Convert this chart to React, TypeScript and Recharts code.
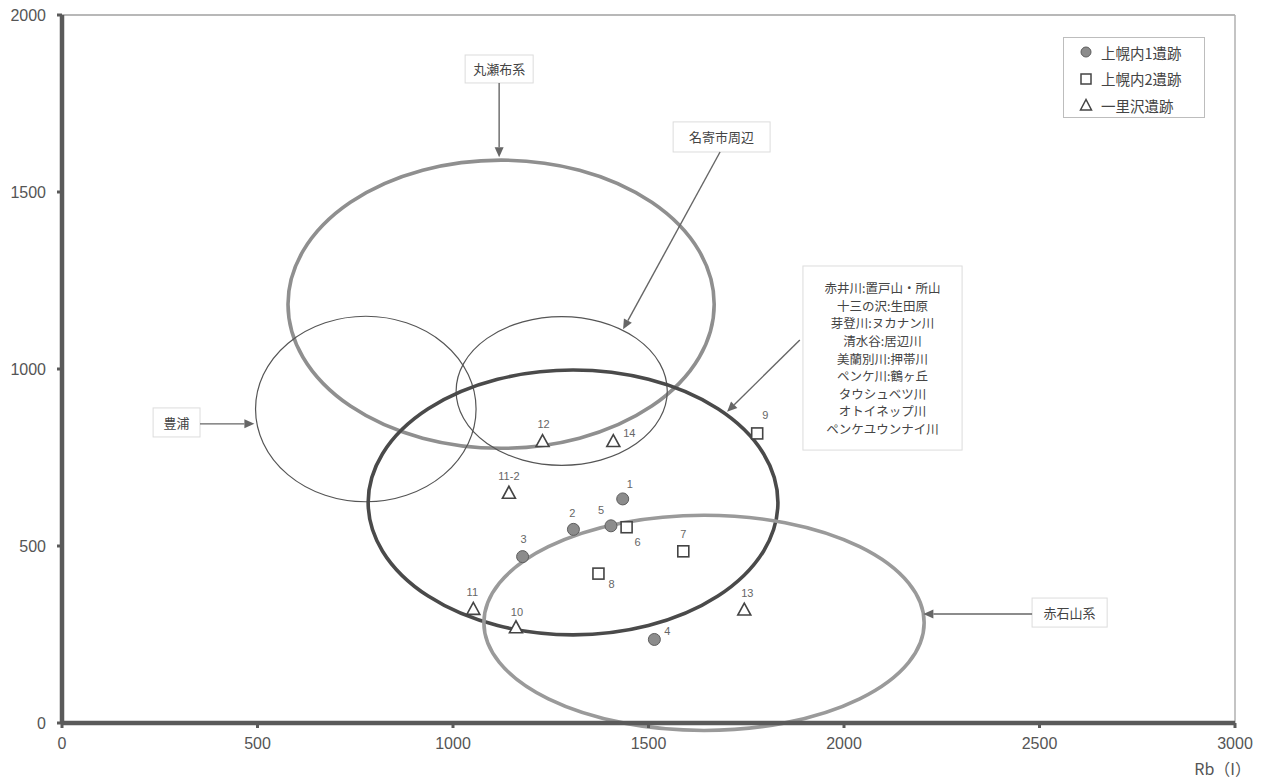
import React from 'react'
import {
  ScatterChart,
  Scatter,
  XAxis,
  YAxis,
  ReferenceArea,
  ReferenceLine,
} from 'recharts'

// 上幌内1遺跡
const site1Ids = ['1', '2', '3', '4', '5']
const site1Rb = [1434, 1308, 1178, 1515, 1404]
const site1Sr = [633, 547, 470, 236, 557]

// 上幌内2遺跡
const site2Ids = ['6', '7', '8', '9']
const site2Rb = [1444, 1589, 1372, 1778]
const site2Sr = [553, 485, 422, 818]

// 一里沢遺跡
const site3Ids = ['10', '11', '11-2', '12', '13', '14']
const site3Rb = [1161, 1052, 1143, 1229, 1745, 1410]
const site3Sr = [269, 321, 649, 795, 319, 795]

const xTicks = [0, 500, 1000, 1500, 2000, 2500, 3000]
const yTicks = [0, 500, 1000, 1500, 2000]

const seriesNames = ['上幌内1遺跡', '上幌内2遺跡', '一里沢遺跡']

// source areas (centre / radii in data units)
const areaNames = ['丸瀬布系', '名寄市周辺', '豊浦', '赤井川ほか', '赤石山系']
const areaCx = [1123, 1278, 777, 1307, 1642]
const areaCy = [1183, 938, 887, 623, 283]
const areaRx = [545, 270, 282, 524, 563]
const areaRy = [407, 210, 262, 374, 304]

const toPoints = (ids: string[], rb: number[], sr: number[]) =>
  ids.map((id, i) => ({ id, rb: rb[i], sr: sr[i] }))

const site1 = toPoints(site1Ids, site1Rb, site1Sr)
const site2 = toPoints(site2Ids, site2Rb, site2Sr)
const site3 = toPoints(site3Ids, site3Rb, site3Sr)

// ellipse look: thick grey, thin dark, thick dark
const areaStyle = [
  { stroke: '#8f8f8f', width: 3.6 },
  { stroke: '#555', width: 1.2 },
  { stroke: '#555', width: 1.2 },
  { stroke: '#4a4a4a', width: 3.6 },
  { stroke: '#9a9a9a', width: 3.6 },
]

// where each point number sits, relative to the marker
const labelOffset: Record<string, [number, number]> = {
  '1': [7, -15], '2': [-1, -16], '3': [1, -18], '4': [13, -8], '5': [-10, -16],
  '6': [11, 15], '7': [0, -17], '8': [13, 10], '9': [8, -18],
  '10': [1, -16], '11': [-1, -17], '11-2': [0, -17], '12': [1, -18], '13': [3, -17], '14': [16, -9],
}

// callout boxes and their arrows
const callouts = [
  { lines: ['丸瀬布系'], x1: 1031, x2: 1205, y1: 1808, y2: 1887 },
  { lines: ['名寄市周辺'], x1: 1563, x2: 1811, y1: 1613, y2: 1698 },
  { lines: ['豊浦'], x1: 233, x2: 353, y1: 808, y2: 890 },
  {
    lines: ['赤井川:置戸山・所山', '十三の沢:生田原', '芽登川:ヌカナン川', '清水谷:居辺川', '美蘭別川:押帯川', 'ペンケ川:鶴ヶ丘', 'タウシュベツ川', 'オトイネップ川', 'ペンケユウンナイ川'],
    x1: 1895, x2: 2302, y1: 771, y2: 1291,
  },
  { lines: ['赤石山系'], x1: 2481, x2: 2673, y1: 271, y2: 353 },
]
const arrows = [
  [{ x: 1118, y: 1808 }, { x: 1118, y: 1598 }],
  [{ x: 1683, y: 1613 }, { x: 1435, y: 1112 }],
  [{ x: 353, y: 845 }, { x: 492, y: 845 }],
  [{ x: 1887, y: 1082 }, { x: 1701, y: 879 }],
  [{ x: 2481, y: 308 }, { x: 2203, y: 308 }],
]

const FONT = "'Liberation Sans', 'Noto Sans CJK JP', sans-serif"
const JP = "'Noto Sans CJK JP', sans-serif"

const PointLabel = ({ cx, cy, id }: { cx: number; cy: number; id: string }) => {
  const [dx, dy] = labelOffset[id] || [0, -16]
  return (
    <text x={cx + dx} y={cy + dy} textAnchor="middle" dominantBaseline="central" fontSize={11} fill="#666" fontFamily={FONT}>
      {id}
    </text>
  )
}

const circleShape = (p: any) => (
  <g>
    <circle cx={p.cx} cy={p.cy} r={6} fill="#8c8c8c" stroke="#5e5e5e" strokeWidth={1} />
    <PointLabel cx={p.cx} cy={p.cy} id={p.payload.id} />
  </g>
)

const squareShape = (p: any) => (
  <g>
    <rect x={p.cx - 5.5} y={p.cy - 5.5} width={11} height={11} fill="#fff" stroke="#444" strokeWidth={1.6} />
    <PointLabel cx={p.cx} cy={p.cy} id={p.payload.id} />
  </g>
)

const triangleShape = (p: any) => (
  <g>
    <polygon
      points={`${p.cx},${p.cy - 7} ${p.cx - 6.5},${p.cy + 5} ${p.cx + 6.5},${p.cy + 5}`}
      fill="#fff"
      stroke="#444"
      strokeWidth={1.6}
      strokeLinejoin="miter"
    />
    <PointLabel cx={p.cx} cy={p.cy} id={p.payload.id} />
  </g>
)

const ellipseShape = (i: number) => (p: any) => (
  <ellipse
    cx={p.x + p.width / 2}
    cy={p.y + p.height / 2}
    rx={p.width / 2}
    ry={p.height / 2}
    fill="none"
    stroke={areaStyle[i].stroke}
    strokeWidth={areaStyle[i].width}
  />
)

const calloutShape = (lines: string[]) => (p: any) => {
  const lh = lines.length > 1 ? 17.6 : 0
  const top = p.y + p.height / 2 - ((lines.length - 1) * lh) / 2
  return (
    <g>
      <rect x={p.x} y={p.y} width={p.width} height={p.height} fill="#fff" stroke="#dcdcdc" strokeWidth={1} />
      <text textAnchor="middle" fontSize={lines.length > 1 ? 12.5 : 13} fill="#444" fontFamily={JP}>
        {lines.map((l, k) => (
          <tspan key={k} x={p.x + p.width / 2} y={top + k * lh} dominantBaseline="central">
            {l}
          </tspan>
        ))}
      </text>
    </g>
  )
}

const arrowShape = (p: any) => {
  const { x1, y1, x2, y2 } = p
  const a = Math.atan2(y2 - y1, x2 - x1)
  const len = 10
  const w = 4.5
  const bx = x2 - len * Math.cos(a)
  const by = y2 - len * Math.sin(a)
  const px = -Math.sin(a) * w
  const py = Math.cos(a) * w
  return (
    <g>
      <line x1={x1} y1={y1} x2={bx} y2={by} stroke="#666" strokeWidth={1.4} />
      <polygon points={`${x2},${y2} ${bx + px},${by + py} ${bx - px},${by - py}`} fill="#666" />
    </g>
  )
}

const LegendBox = () => (
  <div
    style={{
      position: 'absolute',
      left: 1063,
      top: 37,
      width: 142,
      height: 81,
      border: '1px solid #bdbdbd',
      background: '#fff',
      fontFamily: JP,
      fontSize: 14.5,
      color: '#444',
      boxSizing: 'border-box',
    }}
  >
    {seriesNames.map((name, i) => (
      <div key={name} style={{ position: 'absolute', left: 15, top: 4 + i * 26.5, height: 20, display: 'flex', alignItems: 'center' }}>
        <svg width={14} height={14} style={{ marginRight: 8 }}>
          {i === 0 && <circle cx={7} cy={7} r={5} fill="#8c8c8c" stroke="#5e5e5e" />}
          {i === 1 && <rect x={2} y={2} width={10} height={10} fill="#fff" stroke="#444" strokeWidth={1.5} />}
          {i === 2 && <polygon points="7,1.5 1.5,12 12.5,12" fill="#fff" stroke="#444" strokeWidth={1.5} />}
        </svg>
        <span>{name}</span>
      </div>
    ))}
  </div>
)

export default function App() {
  return (
    <div style={{ position: 'absolute', left: 0, top: 0, width: 1269, height: 781, background: '#fff', fontFamily: FONT }}>
      <ScatterChart width={1269} height={781} margin={{ top: 15, right: 34, bottom: 0, left: 2 }}>
        <XAxis
          type="number"
          dataKey="rb"
          domain={[0, 3000]}
          ticks={xTicks}
          height={58}
          axisLine={{ stroke: '#5a5a5a', strokeWidth: 4.5 }}
          tickLine={{ stroke: '#5a5a5a', strokeWidth: 3 }}
          tickSize={5}
          tickMargin={10}
          tick={{ fill: '#555', fontSize: 16, fontFamily: FONT }}
          label={{
            content: (lp: any) => (
              <text x={lp.viewBox.x + lp.viewBox.width + 16} y={lp.viewBox.y + 52} textAnchor="end" fontSize={16} fill="#555" fontFamily={JP}>
                Rb（I）
              </text>
            ),
          }}
        />
        <YAxis
          type="number"
          dataKey="sr"
          domain={[0, 2000]}
          ticks={yTicks}
          width={60}
          axisLine={{ stroke: '#5a5a5a', strokeWidth: 4.5 }}
          tickLine={{ stroke: '#5a5a5a', strokeWidth: 3 }}
          tickSize={5}
          tickMargin={11}
          tick={{ fill: '#555', fontSize: 16, fontFamily: FONT }}
        />
        <ReferenceLine y={2000} stroke="#a0a0a0" strokeWidth={1.5} ifOverflow="visible" />
        <ReferenceLine x={3000} stroke="#b0b0b0" strokeWidth={1.5} ifOverflow="visible" />
        {areaNames.map((name, i) => (
          <ReferenceArea
            key={name}
            x1={areaCx[i] - areaRx[i]}
            x2={areaCx[i] + areaRx[i]}
            y1={areaCy[i] - areaRy[i]}
            y2={areaCy[i] + areaRy[i]}
            ifOverflow="visible"
            shape={ellipseShape(i)}
          />
        ))}
        {arrows.map((seg, i) => (
          <ReferenceLine key={`arrow-${i}`} segment={seg} ifOverflow="visible" shape={arrowShape} />
        ))}
        {callouts.map((c, i) => (
          <ReferenceArea key={`box-${i}`} x1={c.x1} x2={c.x2} y1={c.y1} y2={c.y2} ifOverflow="visible" shape={calloutShape(c.lines)} />
        ))}
        <Scatter name={seriesNames[0]} data={site1} shape={circleShape} isAnimationActive={false} />
        <Scatter name={seriesNames[1]} data={site2} shape={squareShape} isAnimationActive={false} />
        <Scatter name={seriesNames[2]} data={site3} shape={triangleShape} isAnimationActive={false} />
      </ScatterChart>
      <LegendBox />
    </div>
  )
}
